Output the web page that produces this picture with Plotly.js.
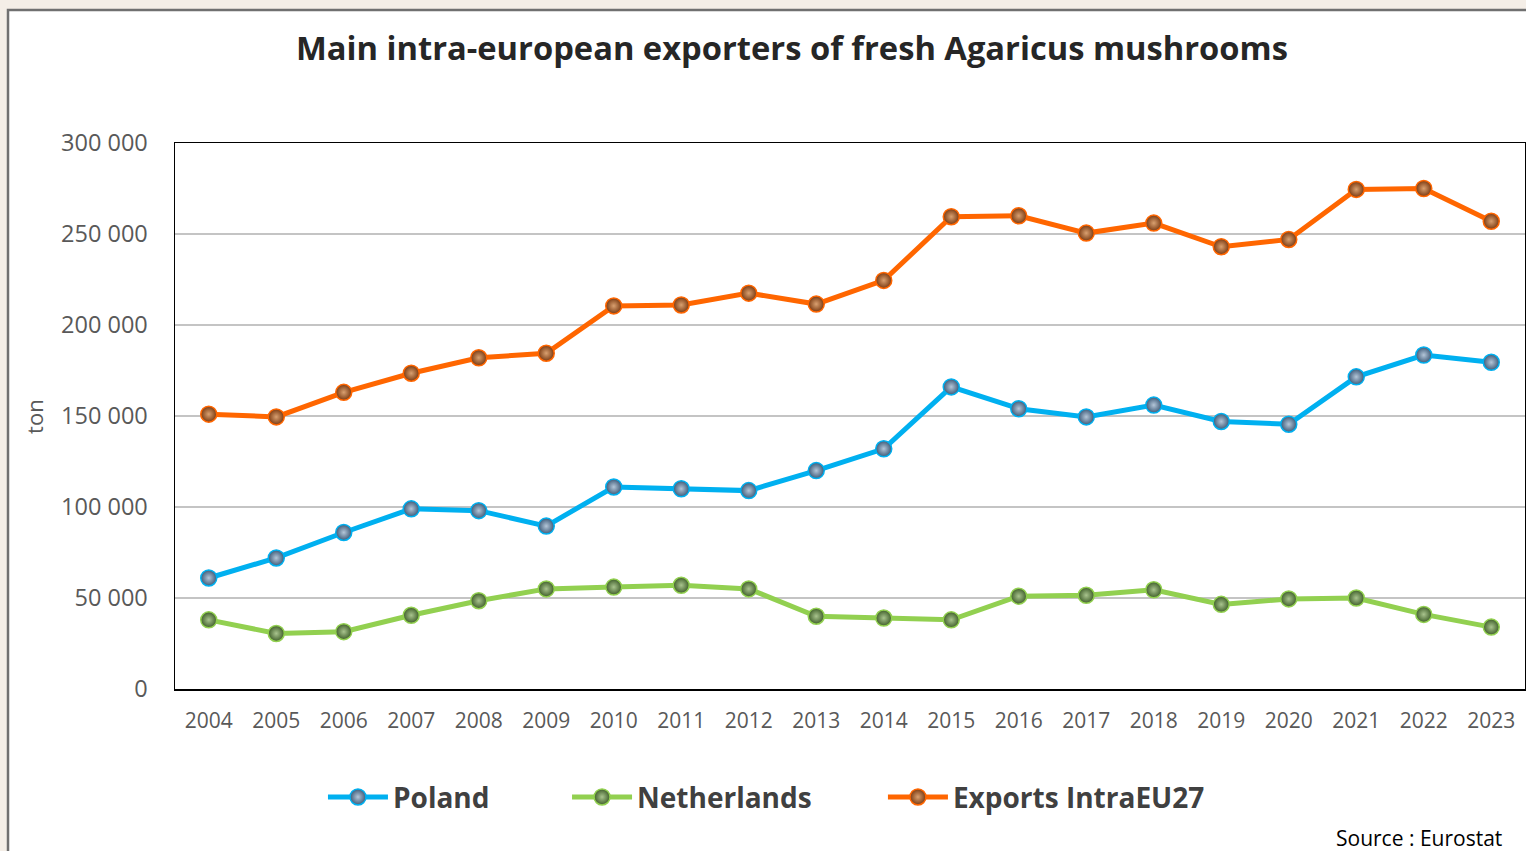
<!DOCTYPE html>
<html>
<head>
<meta charset="utf-8">
<script src="https://cdn.plot.ly/plotly-3.0.1.min.js"></script>
<style>
html,body{margin:0;padding:0;background:#f4eee7;}
#chart{width:1526px;height:851px;}
</style>
</head>
<body>
<div id="chart"></div>
<script>
const years = ['2004','2005','2006','2007','2008','2009','2010','2011','2012','2013','2014','2015','2016','2017','2018','2019','2020','2021','2022','2023'];
const poland = [61000,72000,86000,99000,98000,89500,111000,110000,109000,120000,132000,166000,154000,149500,156000,147000,145500,171500,183500,179500];
const netherlands = [38000,30500,31500,40500,48500,55000,56000,57000,55000,40000,39000,38000,51000,51500,54500,46500,49500,50000,41000,34000];
const exportsEU = [151000,149500,163000,173500,182000,184500,210500,211000,217500,211500,224500,259500,260000,250500,256000,243000,247000,274500,275000,257000];
const yTicks = [0,50000,100000,150000,200000,250000,300000];
const yTickText = ['0','50 000','100 000','150 000','200 000','250 000','300 000'];

function series(name, y, lineColor, outer, center, legendId){
  return {
    type:'scatter', mode:'lines+markers', name:name, x:years, y:y, legend:legendId,
    line:{color:lineColor, width:5},
    marker:{size:16, color:outer, gradient:{type:'radial', color:center}, line:{color:lineColor, width:1.5}}
  };
}
const data = [
  series('Poland', poland, '#00b0f0', '#3d5a78', '#b4c6d8', 'legend'),
  series('Netherlands', netherlands, '#92d050', '#3f5e2a', '#a9c48e', 'legend2'),
  series('Exports IntraEU27', exportsEU, '#ff6600', '#7a3a12', '#d9a070', 'legend3')
];
function leg(x){
  return {orientation:'h', x:x, xanchor:'left', y:-0.1525, yanchor:'top',
    font:{size:28, color:'#404040', family:'Open Sans, sans-serif', weight:'bold'},
    itemwidth:60, bgcolor:'rgba(0,0,0,0)'};
}
const layout = {
  width:1526, height:851,
  margin:{l:175, r:1, t:143, b:162},
  paper_bgcolor:'#f4eee7', plot_bgcolor:'rgba(0,0,0,0)',
  font:{family:'Open Sans, sans-serif', color:'#595959'},
  title:{text:'<b>Main intra-european exporters of fresh Agaricus mushrooms</b>', font:{size:32.7, color:'#262626', family:'Open Sans, sans-serif'}, x:0.519, xanchor:'center', y:0.943, yanchor:'middle'},
  xaxis:{type:'category', range:[-0.5,19.5], showgrid:false, zeroline:false, showline:true, linecolor:'#000', linewidth:1.5, mirror:true,
    ticks:'outside', ticklen:0, ticklabelstandoff:12, tickfont:{size:21, color:'#595959'}},
  yaxis:{range:[0,300000], tickvals:yTicks, ticktext:yTickText, showgrid:true, gridcolor:'#c4c4c4', gridwidth:2, zeroline:false,
    showline:true, linecolor:'#000', linewidth:1.5, mirror:true, ticks:'outside', ticklen:0, ticklabelstandoff:21, tickfont:{size:23.5, color:'#595959'}},
  showlegend:true,
  legend:leg(0.1096),
  legend2:leg(0.2904),
  legend3:leg(0.5244),
  shapes:[
    {type:'rect', xref:'paper', yref:'paper', x0:-0.1237, x1:1.2, y0:-0.5, y1:1.2436, fillcolor:'#ffffff', line:{color:'#707070', width:2.5}, layer:'below'}
  ],
  annotations:[
    {text:'ton', xref:'paper', yref:'paper', x:-0.1045, y:0.5, textangle:-90, showarrow:false, font:{size:22, color:'#595959'}, xanchor:'center', yanchor:'middle'},
    {text:'Source : Eurostat', xref:'paper', yref:'paper', x:0.9844, y:-0.273, xanchor:'right', yanchor:'middle', showarrow:false, font:{size:21, color:'#000'}}
  ]
};
Plotly.newPlot('chart', data, layout, {displayModeBar:false, staticPlot:true});
</script>
</body>
</html>
